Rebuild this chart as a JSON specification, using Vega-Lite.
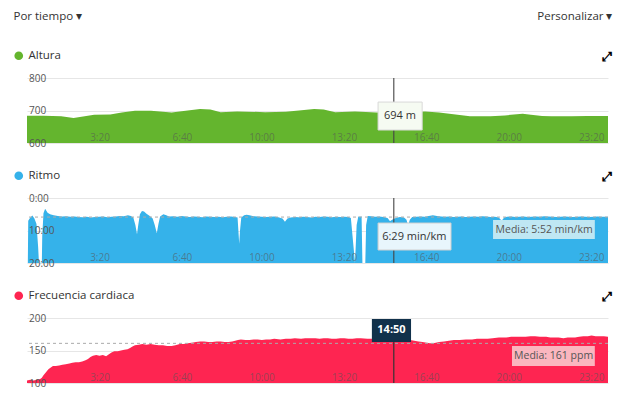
{
  "$schema": "https://vega.github.io/schema/vega-lite/v6.json",
  "padding": {"left": 13, "top": 10, "right": 5, "bottom": 5},
  "background": "white",
  "spacing": 55,
  "bounds": "flush",
  "datasets": {
    "altura": [
      {"t": 0, "alt": 684}, {"t": 40, "alt": 684}, {"t": 83, "alt": 682}, {"t": 113, "alt": 677}, {"t": 140, "alt": 682}, {"t": 163, "alt": 687}, {"t": 202, "alt": 688}, {"t": 230, "alt": 694}, {"t": 262, "alt": 699}, {"t": 301, "alt": 699}, {"t": 351, "alt": 694}, {"t": 390, "alt": 700}, {"t": 420, "alt": 705}, {"t": 445, "alt": 703}, {"t": 470, "alt": 695}, {"t": 510, "alt": 697}, {"t": 578, "alt": 695}, {"t": 628, "alt": 696}, {"t": 660, "alt": 700}, {"t": 697, "alt": 705}, {"t": 720, "alt": 703}, {"t": 748, "alt": 695}, {"t": 796, "alt": 697}, {"t": 848, "alt": 694}, {"t": 890, "alt": 694}, {"t": 930, "alt": 695}, {"t": 966, "alt": 697}, {"t": 1000, "alt": 694}, {"t": 1025, "alt": 690}, {"t": 1050, "alt": 686}, {"t": 1075, "alt": 682}, {"t": 1125, "alt": 682}, {"t": 1160, "alt": 685}, {"t": 1203, "alt": 690}, {"t": 1223, "alt": 687}, {"t": 1250, "alt": 683}, {"t": 1272, "alt": 682}, {"t": 1322, "alt": 682}, {"t": 1360, "alt": 683}, {"t": 1410, "alt": 683}
    ],
    "ritmo": [
      {"t": 0, "pace": 1200}, {"t": 2, "pace": 1200}, {"t": 3, "pace": 420}, {"t": 8, "pace": 360}, {"t": 13, "pace": 324}, {"t": 18, "pace": 380}, {"t": 23, "pace": 480}, {"t": 27, "pace": 900}, {"t": 29, "pace": 1200}, {"t": 36, "pace": 1200}, {"t": 37, "pace": 700}, {"t": 40, "pace": 280}, {"t": 44, "pace": 200}, {"t": 50, "pace": 270}, {"t": 56, "pace": 300}, {"t": 65, "pace": 320}, {"t": 75, "pace": 330}, {"t": 85, "pace": 340}, {"t": 95, "pace": 335}, {"t": 105, "pace": 345}, {"t": 115, "pace": 340}, {"t": 125, "pace": 350}, {"t": 135, "pace": 355}, {"t": 145, "pace": 345}, {"t": 155, "pace": 360}, {"t": 165, "pace": 350}, {"t": 175, "pace": 345}, {"t": 185, "pace": 340}, {"t": 195, "pace": 355}, {"t": 205, "pace": 345}, {"t": 215, "pace": 340}, {"t": 225, "pace": 330}, {"t": 235, "pace": 335}, {"t": 245, "pace": 320}, {"t": 252, "pace": 330}, {"t": 258, "pace": 360}, {"t": 263, "pace": 500}, {"t": 267, "pace": 670}, {"t": 270, "pace": 500}, {"t": 274, "pace": 300}, {"t": 279, "pace": 240}, {"t": 284, "pace": 250}, {"t": 290, "pace": 290}, {"t": 298, "pace": 330}, {"t": 305, "pace": 380}, {"t": 310, "pace": 500}, {"t": 315, "pace": 650}, {"t": 319, "pace": 480}, {"t": 323, "pace": 340}, {"t": 331, "pace": 300}, {"t": 338, "pace": 320}, {"t": 345, "pace": 340}, {"t": 355, "pace": 335}, {"t": 365, "pace": 345}, {"t": 375, "pace": 330}, {"t": 385, "pace": 340}, {"t": 395, "pace": 350}, {"t": 405, "pace": 340}, {"t": 415, "pace": 345}, {"t": 425, "pace": 355}, {"t": 435, "pace": 340}, {"t": 445, "pace": 345}, {"t": 455, "pace": 350}, {"t": 465, "pace": 345}, {"t": 475, "pace": 355}, {"t": 485, "pace": 345}, {"t": 495, "pace": 340}, {"t": 505, "pace": 350}, {"t": 511, "pace": 360}, {"t": 513, "pace": 600}, {"t": 515, "pace": 843}, {"t": 517, "pace": 600}, {"t": 520, "pace": 360}, {"t": 527, "pace": 320}, {"t": 533, "pace": 310}, {"t": 540, "pace": 320}, {"t": 550, "pace": 335}, {"t": 560, "pace": 340}, {"t": 570, "pace": 345}, {"t": 580, "pace": 350}, {"t": 590, "pace": 345}, {"t": 600, "pace": 340}, {"t": 610, "pace": 355}, {"t": 620, "pace": 380}, {"t": 626, "pace": 440}, {"t": 632, "pace": 380}, {"t": 640, "pace": 360}, {"t": 650, "pace": 350}, {"t": 660, "pace": 355}, {"t": 670, "pace": 345}, {"t": 680, "pace": 350}, {"t": 690, "pace": 360}, {"t": 700, "pace": 345}, {"t": 710, "pace": 350}, {"t": 720, "pace": 340}, {"t": 730, "pace": 345}, {"t": 740, "pace": 355}, {"t": 750, "pace": 345}, {"t": 760, "pace": 350}, {"t": 770, "pace": 345}, {"t": 780, "pace": 350}, {"t": 786, "pace": 370}, {"t": 790, "pace": 700}, {"t": 796, "pace": 1200}, {"t": 800, "pace": 500}, {"t": 804, "pace": 340}, {"t": 808, "pace": 345}, {"t": 812, "pace": 340}, {"t": 814, "pace": 1200}, {"t": 821, "pace": 1200}, {"t": 823, "pace": 500}, {"t": 827, "pace": 330}, {"t": 835, "pace": 335}, {"t": 845, "pace": 345}, {"t": 855, "pace": 340}, {"t": 865, "pace": 350}, {"t": 875, "pace": 370}, {"t": 881, "pace": 430}, {"t": 886, "pace": 400}, {"t": 890, "pace": 389}, {"t": 895, "pace": 370}, {"t": 905, "pace": 350}, {"t": 915, "pace": 360}, {"t": 921, "pace": 400}, {"t": 925, "pace": 510}, {"t": 929, "pace": 400}, {"t": 935, "pace": 350}, {"t": 945, "pace": 345}, {"t": 955, "pace": 340}, {"t": 965, "pace": 345}, {"t": 975, "pace": 330}, {"t": 985, "pace": 320}, {"t": 995, "pace": 330}, {"t": 1005, "pace": 340}, {"t": 1015, "pace": 345}, {"t": 1025, "pace": 340}, {"t": 1035, "pace": 350}, {"t": 1045, "pace": 345}, {"t": 1055, "pace": 340}, {"t": 1065, "pace": 350}, {"t": 1075, "pace": 345}, {"t": 1085, "pace": 340}, {"t": 1095, "pace": 345}, {"t": 1105, "pace": 335}, {"t": 1115, "pace": 340}, {"t": 1125, "pace": 350}, {"t": 1135, "pace": 345}, {"t": 1145, "pace": 360}, {"t": 1152, "pace": 420}, {"t": 1158, "pace": 360}, {"t": 1165, "pace": 345}, {"t": 1175, "pace": 340}, {"t": 1185, "pace": 350}, {"t": 1195, "pace": 345}, {"t": 1205, "pace": 340}, {"t": 1215, "pace": 350}, {"t": 1225, "pace": 345}, {"t": 1235, "pace": 340}, {"t": 1245, "pace": 345}, {"t": 1255, "pace": 335}, {"t": 1265, "pace": 340}, {"t": 1275, "pace": 345}, {"t": 1285, "pace": 350}, {"t": 1295, "pace": 345}, {"t": 1305, "pace": 340}, {"t": 1315, "pace": 345}, {"t": 1325, "pace": 350}, {"t": 1335, "pace": 345}, {"t": 1345, "pace": 340}, {"t": 1355, "pace": 345}, {"t": 1365, "pace": 350}, {"t": 1375, "pace": 345}, {"t": 1385, "pace": 340}, {"t": 1395, "pace": 345}, {"t": 1410, "pace": 345}
    ],
    "fc": [
      {"t": 0, "hr": 104}, {"t": 8, "hr": 105}, {"t": 16, "hr": 104}, {"t": 24, "hr": 105}, {"t": 32, "hr": 106}, {"t": 36, "hr": 108}, {"t": 40, "hr": 112}, {"t": 44, "hr": 115}, {"t": 48, "hr": 118}, {"t": 52, "hr": 121}, {"t": 56, "hr": 123}, {"t": 63, "hr": 126}, {"t": 70, "hr": 126}, {"t": 78, "hr": 127}, {"t": 86, "hr": 128}, {"t": 94, "hr": 129}, {"t": 103, "hr": 130}, {"t": 110, "hr": 131}, {"t": 118, "hr": 132}, {"t": 126, "hr": 132}, {"t": 134, "hr": 133}, {"t": 142, "hr": 135}, {"t": 148, "hr": 137}, {"t": 154, "hr": 140}, {"t": 160, "hr": 142}, {"t": 168, "hr": 143}, {"t": 176, "hr": 142}, {"t": 184, "hr": 143}, {"t": 192, "hr": 141}, {"t": 198, "hr": 144}, {"t": 205, "hr": 147}, {"t": 212, "hr": 149}, {"t": 220, "hr": 149}, {"t": 228, "hr": 150}, {"t": 236, "hr": 151}, {"t": 244, "hr": 152}, {"t": 250, "hr": 154}, {"t": 256, "hr": 156}, {"t": 262, "hr": 158}, {"t": 271, "hr": 159}, {"t": 280, "hr": 160}, {"t": 290, "hr": 159}, {"t": 300, "hr": 160}, {"t": 310, "hr": 159}, {"t": 320, "hr": 158}, {"t": 330, "hr": 158}, {"t": 340, "hr": 157}, {"t": 351, "hr": 157}, {"t": 360, "hr": 158}, {"t": 371, "hr": 160}, {"t": 380, "hr": 160}, {"t": 390, "hr": 161}, {"t": 400, "hr": 162}, {"t": 410, "hr": 163}, {"t": 420, "hr": 164}, {"t": 430, "hr": 164}, {"t": 440, "hr": 163}, {"t": 450, "hr": 163}, {"t": 460, "hr": 164}, {"t": 470, "hr": 164}, {"t": 480, "hr": 163}, {"t": 489, "hr": 163}, {"t": 498, "hr": 164}, {"t": 505, "hr": 165}, {"t": 512, "hr": 166}, {"t": 519, "hr": 167}, {"t": 530, "hr": 166}, {"t": 540, "hr": 166}, {"t": 550, "hr": 167}, {"t": 560, "hr": 167}, {"t": 570, "hr": 166}, {"t": 580, "hr": 167}, {"t": 590, "hr": 167}, {"t": 600, "hr": 168}, {"t": 615, "hr": 167}, {"t": 628, "hr": 168}, {"t": 640, "hr": 168}, {"t": 650, "hr": 169}, {"t": 665, "hr": 168}, {"t": 675, "hr": 169}, {"t": 687, "hr": 169}, {"t": 700, "hr": 169}, {"t": 710, "hr": 168}, {"t": 720, "hr": 169}, {"t": 730, "hr": 169}, {"t": 740, "hr": 168}, {"t": 750, "hr": 168}, {"t": 760, "hr": 169}, {"t": 770, "hr": 169}, {"t": 780, "hr": 168}, {"t": 790, "hr": 168}, {"t": 800, "hr": 169}, {"t": 810, "hr": 169}, {"t": 826, "hr": 168}, {"t": 840, "hr": 168}, {"t": 850, "hr": 168}, {"t": 860, "hr": 169}, {"t": 870, "hr": 169}, {"t": 880, "hr": 168}, {"t": 890, "hr": 168}, {"t": 900, "hr": 167}, {"t": 910, "hr": 167}, {"t": 920, "hr": 166}, {"t": 930, "hr": 166}, {"t": 940, "hr": 165}, {"t": 950, "hr": 164}, {"t": 960, "hr": 163}, {"t": 970, "hr": 162}, {"t": 978, "hr": 161}, {"t": 985, "hr": 161}, {"t": 992, "hr": 162}, {"t": 1000, "hr": 163}, {"t": 1012, "hr": 164}, {"t": 1024, "hr": 165}, {"t": 1036, "hr": 166}, {"t": 1050, "hr": 166}, {"t": 1065, "hr": 167}, {"t": 1080, "hr": 167}, {"t": 1092, "hr": 168}, {"t": 1104, "hr": 168}, {"t": 1118, "hr": 168}, {"t": 1130, "hr": 169}, {"t": 1145, "hr": 170}, {"t": 1163, "hr": 170}, {"t": 1175, "hr": 171}, {"t": 1190, "hr": 171}, {"t": 1200, "hr": 171}, {"t": 1210, "hr": 171}, {"t": 1222, "hr": 172}, {"t": 1233, "hr": 172}, {"t": 1245, "hr": 171}, {"t": 1260, "hr": 171}, {"t": 1270, "hr": 170}, {"t": 1280, "hr": 170}, {"t": 1290, "hr": 170}, {"t": 1302, "hr": 169}, {"t": 1312, "hr": 170}, {"t": 1320, "hr": 170}, {"t": 1330, "hr": 170}, {"t": 1340, "hr": 171}, {"t": 1350, "hr": 172}, {"t": 1361, "hr": 172}, {"t": 1370, "hr": 173}, {"t": 1380, "hr": 172}, {"t": 1390, "hr": 172}, {"t": 1400, "hr": 172}, {"t": 1410, "hr": 171}
    ]
  },
  "vconcat": [
    {
      "width": 581, "height": 65,
      "layer": [
        {
          "data": {"name": "altura"},
          "mark": {"type": "area", "interpolate": "linear", "clip": true},
          "encoding": {
            "x": {"field": "t", "type": "quantitative", "scale": {"domain": [0, 1410], "nice": false, "zero": false},
              "axis": {"values": [200, 400, 600, 800, 1000, 1200, 1400], "labelExpr": "floor(datum.value/60) + ':' + (datum.value % 60 < 10 ? '0' : '') + (datum.value % 60)", "labelAlign": "right", "labelBaseline": "alphabetic", "labelPadding": -3, "ticks": false, "tickSize": 0, "domain": false, "grid": false, "labelColor": "#555", "labelOpacity": 0.6, "labelFontSize": 10, "labelFlush": false, "labelOverlap": false, "labelBound": false, "zindex": 2,
                "title": "Personalizar ▾", "titleX": 585, "titleY": -127, "titleAlign": "right", "titleBaseline": "middle", "titleAngle": 0, "titleFontSize": 11.5, "titleFontWeight": "normal", "titleColor": "#333", "titlePadding": 0}},
            "y": {"field": "alt", "type": "quantitative", "scale": {"domain": [600, 800], "nice": false, "zero": false},
              "axis": {"values": [600, 700, 800], "grid": true, "gridColor": "#e6e6e6", "labels": false, "ticks": false, "domain": false, "zindex": 0,
                "title": "⤢", "titleFont": "DejaVu Sans", "titleFontSize": 13, "titleFontWeight": "bold", "titleColor": "#000", "titleAngle": 0, "titleX": 579, "titleY": -22, "titleAlign": "center", "titleBaseline": "middle"}},
            "y2": {"datum": 600},
            "color": {"datum": "Altura", "scale": {"range": ["#64b52e"]},
              "legend": {"orient": "none", "legendX": -14, "legendY": -28, "symbolType": "circle", "symbolSize": 75, "labelFontSize": 11.5, "labelColor": "#333", "title": null, "labelOffset": 4, "padding": 0, "symbolStrokeWidth": 0}}
          }
        },
        {
          "data": {"values": [{"t": 890}]},
          "mark": {"type": "rule", "color": "#444", "opacity": 0.75, "strokeWidth": 1.5},
          "encoding": {
            "x": {"field": "t", "type": "quantitative"},
            "y": {"datum": 800, "type": "quantitative",
              "axis": {"orient": "left", "values": [600, 700, 800], "grid": false, "labelAlign": "left", "labelBaseline": "middle", "labelPadding": -1.5, "ticks": false, "tickSize": 0, "domain": false, "labelColor": "#555", "labelFontSize": 10, "labelFlush": false, "labelOverlap": false, "zindex": 2,
                "title": "Por tiempo ▾", "titleX": -14, "titleY": -62, "titleAlign": "left", "titleBaseline": "middle", "titleAngle": 0, "titleFontSize": 11.5, "titleFontWeight": "normal", "titleColor": "#333"}},
            "y2": {"datum": 600}
          }
        },
        {
          "data": {"values": [{"label": "694 m"}]},
          "mark": {"type": "rect", "fill": "#f6fbf2", "stroke": "#d9d9d9", "strokeWidth": 1},
          "encoding": {
            "x": {"datum": 852}, "x2": {"datum": 959},
            "y": {"datum": 726, "axis": null}, "y2": {"datum": 640}
          }
        },
        {
          "data": {"values": [{"label": "694 m"}]},
          "mark": {"type": "text", "fontSize": 11, "color": "#333", "align": "center", "baseline": "middle"},
          "encoding": {
            "x": {"datum": 905},
            "y": {"datum": 684, "axis": null},
            "text": {"field": "label"}
          }
        }
      ],
      "resolve": {"axis": {"y": "independent"}}
    },
    {
      "width": 581, "height": 65,
      "layer": [
        {
          "data": {"name": "ritmo"},
          "mark": {"type": "area", "interpolate": "linear", "clip": true},
          "encoding": {
            "x": {"field": "t", "type": "quantitative", "scale": {"domain": [0, 1410], "nice": false, "zero": false},
              "axis": {"values": [200, 400, 600, 800, 1000, 1200, 1400], "labelExpr": "floor(datum.value/60) + ':' + (datum.value % 60 < 10 ? '0' : '') + (datum.value % 60)", "labelAlign": "right", "labelBaseline": "alphabetic", "labelPadding": -3, "ticks": false, "tickSize": 0, "domain": false, "grid": false, "labelColor": "#555", "labelOpacity": 0.6, "labelFontSize": 10, "labelFlush": false, "labelOverlap": false, "labelBound": false, "zindex": 2, "title": null}},
            "y": {"field": "pace", "type": "quantitative", "scale": {"domain": [0, 1200], "nice": false, "zero": false, "reverse": true},
              "axis": {"values": [0, 600, 1200], "grid": true, "gridColor": "#e6e6e6", "labels": false, "ticks": false, "domain": false, "zindex": 0,
                "title": "⤢", "titleFont": "DejaVu Sans", "titleFontSize": 13, "titleFontWeight": "bold", "titleColor": "#000", "titleAngle": 0, "titleX": 579, "titleY": -22, "titleAlign": "center", "titleBaseline": "middle"}},
            "y2": {"datum": 1200},
            "color": {"datum": "Ritmo", "scale": {"range": ["#35b2ea"]},
              "legend": {"orient": "none", "legendX": -14, "legendY": -28, "symbolType": "circle", "symbolSize": 75, "labelFontSize": 11.5, "labelColor": "#333", "title": null, "labelOffset": 4, "padding": 0, "symbolStrokeWidth": 0}}
          }
        },
        {
          "data": {"values": [{"media": 352}]},
          "mark": {"type": "rule", "color": "#aaaaaa", "strokeWidth": 1, "strokeDash": [3, 3]},
          "encoding": {
            "y": {"field": "media", "type": "quantitative",
              "axis": {"orient": "left", "values": [0, 600, 1200], "labelExpr": "floor(datum.value/60) + ':' + (datum.value % 60 < 10 ? '0' : '') + (datum.value % 60)", "grid": false, "labelAlign": "left", "labelBaseline": "middle", "labelPadding": -1.5, "ticks": false, "tickSize": 0, "domain": false, "labelColor": "#555", "labelFontSize": 10, "labelFlush": false, "labelOverlap": false, "zindex": 2, "title": null}}
          }
        },
        {
          "data": {"values": [{"t": 890}]},
          "mark": {"type": "rule", "color": "#444", "opacity": 0.75, "strokeWidth": 1.5},
          "encoding": {
            "x": {"field": "t", "type": "quantitative"},
            "y": {"datum": 0, "axis": null},
            "y2": {"datum": 1200}
          }
        },
        {
          "data": {"values": [{"label": "Media: 5:52 min/km"}]},
          "mark": {"type": "rect", "fill": "#bfe7f3"},
          "encoding": {
            "x": {"datum": 1131}, "x2": {"datum": 1378},
            "y": {"datum": 406, "axis": null}, "y2": {"datum": 757}
          }
        },
        {
          "data": {"values": [{"label": "Media: 5:52 min/km"}]},
          "mark": {"type": "text", "fontSize": 10.5, "color": "#555", "align": "center", "baseline": "middle"},
          "encoding": {
            "x": {"datum": 1255},
            "y": {"datum": 582, "axis": null},
            "text": {"field": "label"}
          }
        },
        {
          "data": {"values": [{"label": "6:29 min/km"}]},
          "mark": {"type": "rect", "fill": "#e8f6fc", "stroke": "#d0d0d0", "strokeWidth": 1},
          "encoding": {
            "x": {"datum": 852}, "x2": {"datum": 1029},
            "y": {"datum": 462, "axis": null}, "y2": {"datum": 960}
          }
        },
        {
          "data": {"values": [{"label": "6:29 min/km"}]},
          "mark": {"type": "text", "fontSize": 11, "color": "#333", "align": "center", "baseline": "middle"},
          "encoding": {
            "x": {"datum": 940},
            "y": {"datum": 711, "axis": null},
            "text": {"field": "label"}
          }
        }
      ],
      "resolve": {"axis": {"y": "independent"}}
    },
    {
      "width": 581, "height": 65,
      "layer": [
        {
          "data": {"name": "fc"},
          "mark": {"type": "area", "interpolate": "linear", "clip": true},
          "encoding": {
            "x": {"field": "t", "type": "quantitative", "scale": {"domain": [0, 1410], "nice": false, "zero": false},
              "axis": {"values": [200, 400, 600, 800, 1000, 1200, 1400], "labelExpr": "floor(datum.value/60) + ':' + (datum.value % 60 < 10 ? '0' : '') + (datum.value % 60)", "labelAlign": "right", "labelBaseline": "alphabetic", "labelPadding": -3, "ticks": false, "tickSize": 0, "domain": false, "grid": false, "labelColor": "#555", "labelOpacity": 0.6, "labelFontSize": 10, "labelFlush": false, "labelOverlap": false, "labelBound": false, "zindex": 2, "title": null}},
            "y": {"field": "hr", "type": "quantitative", "scale": {"domain": [100, 200], "nice": false, "zero": false},
              "axis": {"values": [100, 150, 200], "grid": true, "gridColor": "#e6e6e6", "labels": false, "ticks": false, "domain": false, "zindex": 0,
                "title": "⤢", "titleFont": "DejaVu Sans", "titleFontSize": 13, "titleFontWeight": "bold", "titleColor": "#000", "titleAngle": 0, "titleX": 579, "titleY": -22, "titleAlign": "center", "titleBaseline": "middle"}},
            "y2": {"datum": 100},
            "color": {"datum": "Frecuencia cardiaca", "scale": {"range": ["#fe2551"]},
              "legend": {"orient": "none", "legendX": -14, "legendY": -28, "symbolType": "circle", "symbolSize": 75, "labelFontSize": 11.5, "labelColor": "#333", "title": null, "labelOffset": 4, "padding": 0, "symbolStrokeWidth": 0, "labelLimit": 300}}
          }
        },
        {
          "data": {"values": [{"media": 161}]},
          "mark": {"type": "rule", "color": "#aaaaaa", "strokeWidth": 1, "strokeDash": [3, 3]},
          "encoding": {
            "y": {"field": "media", "type": "quantitative",
              "axis": {"orient": "left", "values": [100, 150, 200], "grid": false, "labelAlign": "left", "labelBaseline": "middle", "labelPadding": -1.5, "ticks": false, "tickSize": 0, "domain": false, "labelColor": "#555", "labelFontSize": 10, "labelFlush": false, "labelOverlap": false, "zindex": 2, "title": null}}
          }
        },
        {
          "data": {"values": [{"t": 890}]},
          "mark": {"type": "rule", "color": "#333", "opacity": 0.8, "strokeWidth": 1.5},
          "encoding": {
            "x": {"field": "t", "type": "quantitative"},
            "y": {"datum": 163, "axis": null},
            "y2": {"datum": 100}
          }
        },
        {
          "data": {"values": [{"label": "Media: 161 ppm"}]},
          "mark": {"type": "rect", "fill": "#fbb6bf"},
          "encoding": {
            "x": {"datum": 1177}, "x2": {"datum": 1378},
            "y": {"datum": 157, "axis": null}, "y2": {"datum": 126}
          }
        },
        {
          "data": {"values": [{"label": "Media: 161 ppm"}]},
          "mark": {"type": "text", "fontSize": 10.5, "color": "#555", "align": "center", "baseline": "middle"},
          "encoding": {
            "x": {"datum": 1278},
            "y": {"datum": 141.5, "axis": null},
            "text": {"field": "label"}
          }
        },
        {
          "data": {"values": [{"label": "14:50"}]},
          "mark": {"type": "rect", "fill": "#11314b"},
          "encoding": {
            "x": {"datum": 837}, "x2": {"datum": 932},
            "y": {"datum": 198.5, "axis": null}, "y2": {"datum": 163}
          }
        },
        {
          "data": {"values": [{"label": "14:50"}]},
          "mark": {"type": "text", "fontSize": 11, "fontWeight": "bold", "color": "#ffffff", "align": "center", "baseline": "middle"},
          "encoding": {
            "x": {"datum": 884.5},
            "y": {"datum": 180.8, "axis": null},
            "text": {"field": "label"}
          }
        }
      ],
      "resolve": {"axis": {"y": "independent"}}
    }
  ],
  "resolve": {"scale": {"color": "independent", "x": "independent", "y": "independent"}, "legend": {"color": "independent"}},
  "config": {
    "font": "Open Sans",
    "view": {"stroke": null},
    "axis": {"labelFont": "Open Sans", "titleFont": "Open Sans"},
    "legend": {"labelFont": "Open Sans"},
    "text": {"font": "Open Sans"}
  }
}
